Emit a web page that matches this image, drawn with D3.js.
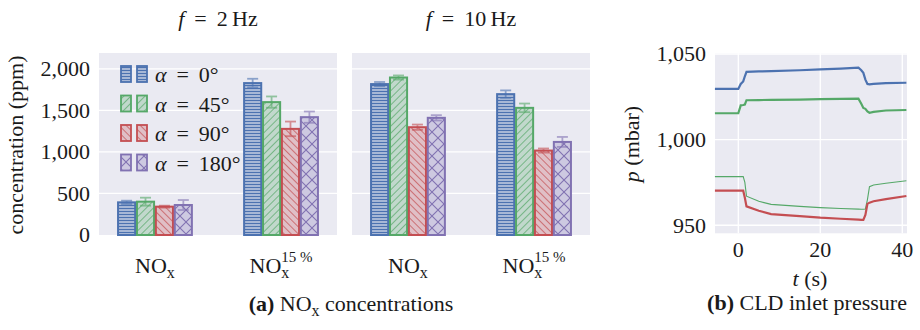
<!DOCTYPE html>
<html>
<head>
<meta charset="utf-8">
<script src="https://cdn.jsdelivr.net/npm/d3@7"></script>
<style>
  body { margin: 0; background: #fff; }
  svg text { font-family: "Liberation Serif", "DejaVu Serif", serif; fill: #1a1a1a; }
</style>
</head>
<body>
<svg id="chart" width="920" height="330"></svg>
<script>
// ---- data ----
const groups = ["NOx", "NOx15"];
const angles = ["0°", "45°", "90°", "180°"];
const colors = ["#4C72B0", "#55A868", "#C44E52", "#8172B2"];
const hatches = ["hline", "fdiag", "bdiag", "cross"];

const nox2Hz = [393, 401, 341, 361];
const nox2HzErr = [20, 48, 12, 60];
const nox15_2Hz = [1828, 1599, 1277, 1418];
const nox15_2HzErr = [52, 68, 88, 68];

const nox10Hz = [1816, 1895, 1297, 1410];
const nox10HzErr = [25, 25, 32, 32];
const nox15_10Hz = [1695, 1530, 1016, 1120];
const nox15_10HzErr = [45, 52, 25, 60];

const concTicks = [0, 500, 1000, 1500, 2000];

const pTime = [-5.7, 0, 0.6, 1.2, 1.6, 2.0, 5, 8, 15, 20, 25, 29.3, 30, 30.5, 31, 31.5, 32, 33, 36, 41];
const pBlue = [1029.6, 1029.6, 1032.5, 1034, 1037, 1039.6, 1039.8, 1040, 1040.5, 1041, 1041.5, 1042, 1040.5, 1039, 1035, 1032.5, 1032.3, 1032.6, 1033, 1033.2];
const pGreen = [1015.4, 1015.4, 1020, 1020.2, 1020.5, 1023, 1023.1, 1023.2, 1023.4, 1023.6, 1023.8, 1023.9, 1021, 1018.5, 1018, 1016.5, 1015.7, 1016.2, 1017, 1017.3];
const pGreenThin = [978.4, 978.4, 978.4, 978.4, 975, 967, 964, 962.2, 961, 960.3, 959.8, 959.4, 959.3, 959.3, 959.5, 965, 972.5, 973.5, 974.5, 976];
const pRed = [970.2, 970.2, 970.2, 970.2, 966, 961, 958.5, 956.5, 955.3, 954.4, 953.8, 953.3, 953.1, 953.1, 956, 962.5, 963.2, 964, 965.3, 967.1];
const pTicks = [950, 1000, 1050];
const tTicks = [0, 20, 40];

// ---- setup ----
const svg = d3.select("#chart");
const bg = "#EAEAF2";
const fmt = d3.format(",");
const eq = " \u2009=\u2009 ";

const defs = svg.append("defs");
function addPattern(id, color) {
    const light = d3.color(color); light.opacity = 0.28;
    let p;
    if (id.startsWith("hline")) {
        p = defs.append("pattern").attr("id", id).attr("patternUnits", "userSpaceOnUse").attr("width", 4).attr("height", 3);
        p.append("rect").attr("width", 4).attr("height", 3).attr("fill", bg);
        p.append("rect").attr("width", 4).attr("height", 3).attr("fill", light + "");
        p.append("line").attr("x1", 0).attr("x2", 4).attr("y1", 1.5).attr("y2", 1.5).attr("stroke", color).attr("stroke-width", 1.4);
    } else if (id.startsWith("cross")) {
        p = defs.append("pattern").attr("id", id).attr("patternUnits", "userSpaceOnUse").attr("width", 12).attr("height", 12);
        p.append("rect").attr("width", 12).attr("height", 12).attr("fill", bg);
        p.append("rect").attr("width", 12).attr("height", 12).attr("fill", light + "");
        p.append("path").attr("d", "M0,0L12,12M0,12L12,0").attr("stroke", color).attr("stroke-width", 1.1).attr("fill", "none");
    } else {
        const rot = id.startsWith("fdiag") ? 45 : -45;
        p = defs.append("pattern").attr("id", id).attr("patternUnits", "userSpaceOnUse").attr("width", 5).attr("height", 5)
            .attr("patternTransform", `rotate(${rot})`);
        p.append("rect").attr("width", 5).attr("height", 5).attr("fill", bg);
        p.append("rect").attr("width", 5).attr("height", 5).attr("fill", light + "");
        p.append("line").attr("x1", 0).attr("x2", 0).attr("y1", 0).attr("y2", 5).attr("stroke", color).attr("stroke-width", 1.4);
    }
}
hatches.forEach((h, i) => addPattern(h + i, colors[i]));

const yConc = d3.scaleLinear().domain([0, 2190]).range([235, 53]);
const offsets = [-0.225, -0.075, 0.075, 0.225];
const barW = 0.15;

function noxLabel(sel, pct) {
    sel.append("tspan").text("NO");
    sel.append("tspan").attr("dy", 5).attr("font-size", 16).text("x");
    if (pct) sel.append("tspan").attr("dx", -8).attr("dy", -16).attr("font-size", 15).text("15 %");
}

function drawBarPanel(x0, x1, title, vals, errs, showY) {
    const xs = d3.scaleLinear().domain([-0.444, 1.444]).range([x0, x1]);
    const g = svg.append("g");
    g.append("rect").attr("x", x0).attr("y", yConc.range()[1]).attr("width", x1 - x0)
        .attr("height", yConc.range()[0] - yConc.range()[1]).attr("fill", bg);
    g.selectAll(".grid").data(concTicks.slice(1)).join("line")
        .attr("x1", x0).attr("x2", x1).attr("y1", d => yConc(d)).attr("y2", d => yConc(d))
        .attr("stroke", "#fff").attr("stroke-width", 1.3);

    if (showY) {
        g.selectAll(".ytick").data(concTicks).join("text")
            .attr("x", x0 - 9).attr("y", d => yConc(d)).attr("dy", "0.33em")
            .attr("text-anchor", "end").attr("font-size", 22).text(d => fmt(d));
    }

    groups.forEach((grp, gi) => {
        vals[gi].forEach((v, i) => {
            const cx = xs(gi + offsets[i]);
            const w = xs(barW) - xs(0);
            g.append("rect").attr("x", cx - w / 2 + 0.9).attr("y", yConc(v))
                .attr("width", w - 1.8).attr("height", yConc(0) - yConc(v))
                .attr("fill", `url(#${hatches[i]}${i})`).attr("stroke", colors[i]).attr("stroke-width", 2);
            const e = errs[gi][i];
            const eg = g.append("g").attr("stroke", colors[i]).attr("stroke-width", 1.8).attr("opacity", 0.6);
            eg.append("line").attr("x1", cx).attr("x2", cx).attr("y1", yConc(v - e)).attr("y2", yConc(v + e));
            [v - e, v + e].forEach(y => eg.append("line").attr("x1", cx - 5.5).attr("x2", cx + 5.5)
                .attr("y1", yConc(y)).attr("y2", yConc(y)));
        });
        const lab = g.append("text").attr("x", xs(gi)).attr("y", 273).attr("text-anchor", "middle").attr("font-size", 22);
        noxLabel(lab, gi === 1);
    });

    const t = g.append("text").attr("x", (x0 + x1) / 2).attr("y", 26).attr("text-anchor", "middle").attr("font-size", 22);
    t.append("tspan").attr("font-style", "italic").text("f");
    t.append("tspan").text(eq + title);
}

drawBarPanel(99, 337, "2\u2009Hz", [nox2Hz, nox15_2Hz], [nox2HzErr, nox15_2HzErr], true);
drawBarPanel(352, 590, "10\u2009Hz", [nox10Hz, nox15_10Hz], [nox10HzErr, nox15_10HzErr], false);

// legend
const legend = svg.append("g");
angles.forEach((a, i) => {
    const cy = 74 + i * 29.5;
    [121, 137].forEach(x => legend.append("rect").attr("x", x).attr("y", cy - 8).attr("width", 10).attr("height", 16)
        .attr("fill", `url(#${hatches[i]}${i})`).attr("stroke", colors[i]).attr("stroke-width", 1.8));
    const t = legend.append("text").attr("x", 155).attr("y", cy + 8).attr("font-size", 22);
    t.append("tspan").attr("font-style", "italic").text("α");
    t.append("tspan").text(eq + a);
});

svg.append("text").attr("transform", "translate(23,145) rotate(-90)").attr("text-anchor", "middle")
    .attr("font-size", 22).text("concentration (ppm)");

const capA = svg.append("text").attr("x", 351).attr("y", 311).attr("text-anchor", "middle").attr("font-size", 22);
capA.append("tspan").attr("font-weight", "bold").text("(a)");
capA.append("tspan").text(" NO");
capA.append("tspan").attr("dy", 5).attr("font-size", 16).text("x");
capA.append("tspan").attr("dy", -5).text("  concentrations");

// ---- panel b ----
const xT = d3.scaleLinear().domain([-5.68, 41.15]).range([715, 907]);
const yP = d3.scaleLinear().domain([945.3, 1050.4]).range([233.3, 53.3]);
const gb = svg.append("g");
gb.append("rect").attr("x", 715).attr("y", 53.3).attr("width", 192).attr("height", 180).attr("fill", bg);
gb.selectAll(".hg").data(pTicks).join("line")
    .attr("x1", 715).attr("x2", 907).attr("y1", d => yP(d)).attr("y2", d => yP(d)).attr("stroke", "#fff").attr("stroke-width", 1.3);
gb.selectAll(".vg").data(tTicks).join("line")
    .attr("y1", 53.3).attr("y2", 233.3).attr("x1", d => xT(d)).attr("x2", d => xT(d)).attr("stroke", "#fff").attr("stroke-width", 1.3);

const line = d3.line().x((d, i) => xT(pTime[i])).y(d => yP(d));
[[pBlue, colors[0], 2.2], [pGreen, colors[1], 2.2], [pGreenThin, colors[1], 1.1], [pRed, colors[2], 2.2]].forEach(([s, c, w]) => {
    gb.append("path").datum(s).attr("d", line).attr("fill", "none").attr("stroke", c).attr("stroke-width", w);
});

gb.selectAll(".pt").data(pTicks).join("text").attr("x", 706).attr("y", d => yP(d)).attr("dy", "0.33em")
    .attr("text-anchor", "end").attr("font-size", 22).text(d => fmt(d));
gb.selectAll(".tt").data(tTicks).join("text").attr("x", d => xT(d)).attr("y", 257)
    .attr("text-anchor", "middle").attr("font-size", 22).text(d => d);

const tl = gb.append("text").attr("x", 810).attr("y", 286).attr("text-anchor", "middle").attr("font-size", 22);
tl.append("tspan").attr("font-style", "italic").text("t");
tl.append("tspan").text(" (s)");

const pl = gb.append("text").attr("transform", "translate(639,144) rotate(-90)").attr("text-anchor", "middle").attr("font-size", 22);
pl.append("tspan").attr("font-style", "italic").text("p");
pl.append("tspan").text(" (mbar)");

const capB = svg.append("text").attr("x", 807).attr("y", 310).attr("text-anchor", "middle").attr("font-size", 22);
capB.append("tspan").attr("font-weight", "bold").text("(b)");
capB.append("tspan").text(" CLD inlet pressure");
</script>
</body>
</html>
